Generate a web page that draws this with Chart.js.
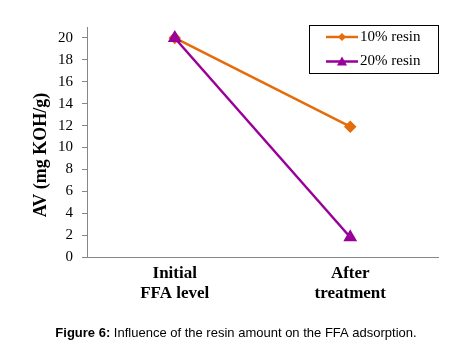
<!DOCTYPE html>
<html><head><meta charset="utf-8">
<script src="https://cdn.jsdelivr.net/npm/chart.js@4"></script>
<style>html,body{margin:0;padding:0;background:#fff;}#wrap{position:relative;width:469px;height:352px;}</style>
</head><body><div id="wrap"><canvas id="c" width="469" height="352"></canvas></div>
<script>
const categories = [['Initial','FFA level'], ['After','treatment']];
const seriesNames = ['10% resin', '20% resin'];
const resin10 = [20, 11.9];
const resin20 = [20, 1.8];
const yTicks = [0, 2, 4, 6, 8, 10, 12, 14, 16, 18, 20];
const yAxisTitle = 'AV (mg KOH/g)';
const captionBold = 'Figure 6:';
const captionText = ' Influence of the resin amount on the FFA adsorption.';

const ORANGE = '#E46C0A';
const PURPLE = '#990099';

const legendPlugin = {
  id: 'boxLegend',
  afterDraw(chart) {
    const ctx = chart.ctx;
    ctx.save();
    // y-axis title
    ctx.save();
    ctx.translate(41, 155);
    ctx.rotate(-Math.PI / 2);
    ctx.font = 'bold 18px "Liberation Serif", "Times New Roman", serif';
    ctx.fillStyle = '#000'; ctx.textAlign = 'center'; ctx.textBaseline = 'middle';
    ctx.fillText(yAxisTitle, 0, 0);
    ctx.restore();
    const bx = 309, by = 25, bw = 129, bh = 48;
    ctx.strokeStyle = '#000'; ctx.lineWidth = 1;
    ctx.strokeRect(bx + 0.5, by + 0.5, bw, bh);
    chart.data.datasets.forEach((ds, i) => {
      const y = 37 + i * 24.5;
      ctx.strokeStyle = ds.borderColor; ctx.lineWidth = 2.5;
      ctx.beginPath(); ctx.moveTo(326, y); ctx.lineTo(358, y); ctx.stroke();
      ctx.fillStyle = ds.backgroundColor;
      ctx.beginPath();
      if (ds.pointStyle === 'triangle') {
        ctx.moveTo(342, y - 5); ctx.lineTo(347, y + 4); ctx.lineTo(337, y + 4);
      } else {
        ctx.moveTo(342, y - 4); ctx.lineTo(346, y); ctx.lineTo(342, y + 4); ctx.lineTo(338, y);
      }
      ctx.closePath(); ctx.fill();
      ctx.fillStyle = '#000';
      ctx.font = '15px "Liberation Serif", "Times New Roman", serif';
      ctx.textBaseline = 'middle'; ctx.textAlign = 'left';
      ctx.fillText(ds.label, 360, y);
    });
    // caption
    const fb = 'bold 13px "Liberation Sans", Arial, sans-serif';
    const fn = '13px "Liberation Sans", Arial, sans-serif';
    ctx.font = fb;
    const w1 = ctx.measureText(captionBold).width;
    ctx.font = fn;
    const w2 = ctx.measureText(captionText).width;
    let x = 236 - (w1 + w2) / 2;
    ctx.textBaseline = 'middle'; ctx.textAlign = 'left'; ctx.fillStyle = '#000';
    ctx.font = fb;
    ctx.fillText(captionBold, x, 333);
    ctx.font = fn;
    ctx.fillText(captionText, x + w1, 333);
    ctx.restore();
  }
};

new Chart(document.getElementById('c'), {
  type: 'line',
  data: {
    labels: categories,
    datasets: [
      { label: seriesNames[0], data: resin10, borderColor: ORANGE, backgroundColor: ORANGE, order: 1,
        borderWidth: 2.5, pointStyle: 'rectRot', pointRadius: 4.5, pointHoverRadius: 4.5 },
      { label: seriesNames[1], data: resin20, borderColor: PURPLE, backgroundColor: PURPLE, order: 0,
        borderWidth: 2.5, pointStyle: 'triangle', pointRadius: 5.5, pointHoverRadius: 5.5 }
    ]
  },
  options: {
    responsive: false, animation: false,
    layout: { padding: { top: 27, right: 31, left: 0, bottom: 0 } },
    plugins: { legend: { display: false }, tooltip: { enabled: false } },
    scales: {
      x: {
        offset: true,
        grid: { drawOnChartArea: false, drawTicks: false },
        border: { display: true, color: '#868686', width: 1 },
        ticks: { color: '#000', padding: 6, maxRotation: 0,
          font: { family: '"Liberation Serif", "Times New Roman", serif', size: 17, weight: 'bold', lineHeight: 1.2 } },
        afterFit(s) { s.height = 95; }
      },
      y: {
        min: 0, max: 21,
        afterBuildTicks(s) { s.ticks = yTicks.map(v => ({ value: v })); },
        grid: { drawOnChartArea: false, drawTicks: true, tickLength: 5, color: '#868686' },
        border: { display: true, color: '#868686', width: 1 },
        ticks: { color: '#000', padding: 9,
          font: { family: '"Liberation Serif", "Times New Roman", serif', size: 15 } },
        title: { display: false },
        afterFit(s) { s.width = 87; }
      }
    }
  },
  plugins: [legendPlugin]
});
</script></body></html>
